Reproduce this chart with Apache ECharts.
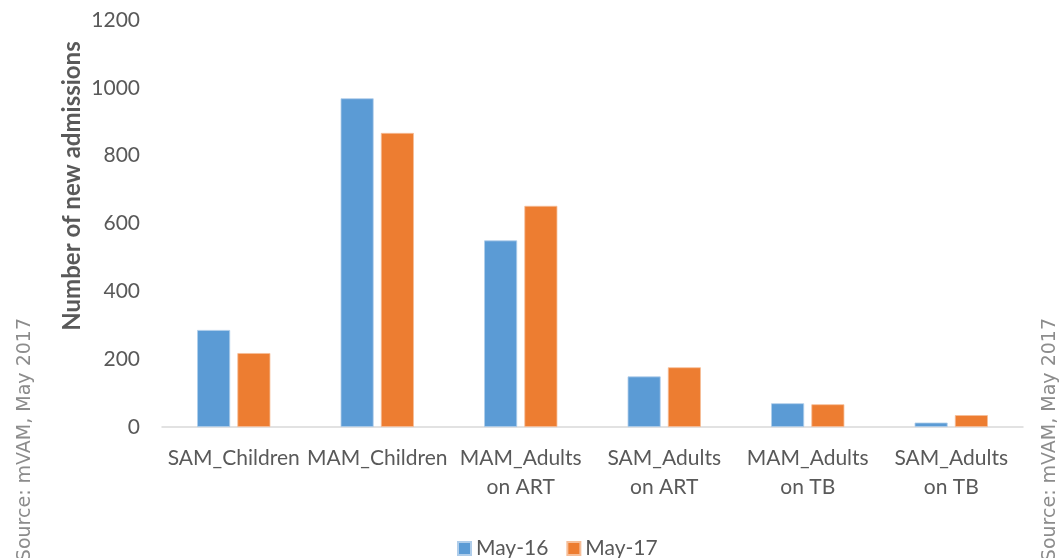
<!DOCTYPE html>
<html>
<head>
<meta charset="utf-8">
<script src="https://cdn.jsdelivr.net/npm/echarts@6/dist/echarts.min.js"></script>
<style>html,body{margin:0;padding:0;background:#fff}#c{width:1059px;height:558px}</style>
</head>
<body>
<div id="c"></div>
<script>
const categories = ['SAM_Children', 'MAM_Children', 'MAM_Adults\non ART', 'SAM_Adults\non ART', 'MAM_Adults\non TB', 'SAM_Adults\non TB'];
const seriesNames = ['May-16', 'May-17'];
const may16 = [286, 969, 550, 149, 70, 13];
const may17 = [218, 867, 652, 176, 67, 35];
const yTicks = [0, 200, 400, 600, 800, 1000, 1200];
const yTitle = 'Number of new admissions';
const sourceText = 'Source: mVAM, May 2017';

const FONT = 'Lato';
const chart = echarts.init(document.getElementById('c'), null, {renderer: 'canvas'});
chart.setOption({
  animation: false,
  backgroundColor: '#ffffff',
  textStyle: {fontFamily: FONT},
  grid: {left: 162, right: 36, top: 20, bottom: 131, containLabel: false},
  legend: {
    data: seriesNames,
    left: 452, top: 533,
    icon: 'rect', itemWidth: 13, itemHeight: 13, itemGap: 18,
    textStyle: {fontSize: 21, color: '#595959', fontFamily: FONT}
  },
  xAxis: {
    type: 'category',
    data: categories,
    axisLine: {lineStyle: {color: '#D9D9D9', width: 1.5}},
    axisTick: {show: false},
    axisLabel: {fontSize: 21, color: '#595959', lineHeight: 29, margin: 17, interval: 0, fontFamily: FONT}
  },
  yAxis: {
    type: 'value',
    min: yTicks[0], max: yTicks[yTicks.length - 1], interval: 200,
    splitLine: {show: false},
    axisLine: {show: false},
    axisTick: {show: false},
    axisLabel: {fontSize: 21, color: '#595959', margin: 22, fontFamily: FONT, formatter: v => String(v)}
  },
  series: [
    {name: seriesNames[0], type: 'bar', data: may16, barWidth: 33, barGap: '22%',
     itemStyle: {color: '#5B9BD5', borderColor: '#AFCDEA', borderWidth: 0.8}},
    {name: seriesNames[1], type: 'bar', data: may17, barWidth: 33, barGap: '22%',
     itemStyle: {color: '#ED7D31', borderColor: '#F6BE98', borderWidth: 0.8}}
  ],
  graphic: [
    {type: 'text', x: 72, y: 186, rotation: Math.PI / 2,
     style: {text: yTitle, fontSize: 24, fontWeight: 'bold', fill: '#595959', fontFamily: FONT, align: 'center', verticalAlign: 'middle'}},
    {type: 'text', x: 25, y: 318, rotation: Math.PI / 2,
     style: {text: sourceText, fontSize: 19, fill: '#8C8C8C', fontFamily: 'DejaVu Sans', align: 'right', verticalAlign: 'middle'}},
    {type: 'text', x: 1050, y: 318, rotation: Math.PI / 2,
     style: {text: sourceText, fontSize: 19, fill: '#8C8C8C', fontFamily: 'DejaVu Sans', align: 'right', verticalAlign: 'middle'}}
  ]
});
</script>
</body>
</html>
